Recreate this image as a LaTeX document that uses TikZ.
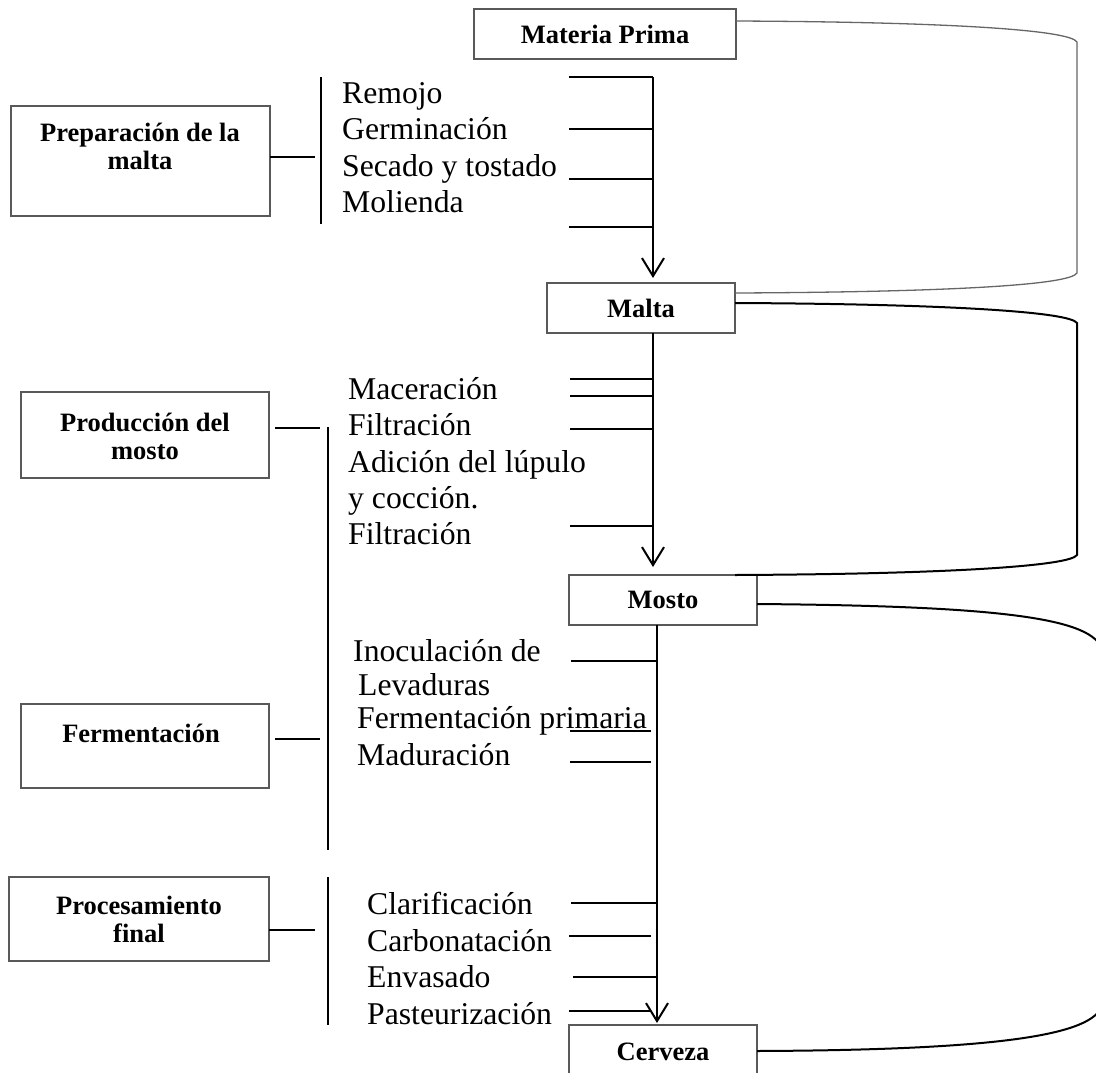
\documentclass[tikz,border=0pt]{standalone}
\usepackage{fontspec}
\setmainfont{Liberation Serif}
\usetikzlibrary{arrows.meta}
\newcommand{\bfboxfont}{\fontsize{26.5}{28}\selectfont\bfseries}
\newcommand{\stepfont}{\fontsize{31.7}{36}\selectfont}
\begin{document}
\begin{tikzpicture}[x=1pt,y=-1pt,
  mainbox/.style={draw=black!65, line width=1.3pt, inner sep=0pt, outer sep=0pt, font=\bfboxfont, align=center},
  sidebox/.style={draw=black!65, line width=1.3pt, inner sep=0pt, outer sep=0pt},
  boxtext/.style={inner sep=0pt, font=\bfboxfont, align=center},
  steptext/.style={anchor=base west, inner sep=0pt, font=\stepfont},
  flow/.style={line width=2pt, -{Straight Barb[length=18pt,width=22pt,line width=2pt]}},
  tickline/.style={line width=2pt},
  barline/.style={line width=2pt},
  loopA/.style={draw=black!60, line width=1.3pt},
  loopB/.style={draw=black, line width=2pt}]
\useasboundingbox (0,0) rectangle (1096,1072);
\clip (0,0) rectangle (1096,1072);

% main boxes
\node[mainbox, minimum width=262pt, minimum height=50pt] (materia) at (605,34) {Materia Prima};
\node[mainbox, minimum width=188pt, minimum height=50pt] (malta) at (641,308) {Malta};
\node[mainbox, minimum width=188pt, minimum height=50pt] (mosto) at (663,600) {Mosto};
\node[sidebox, minimum width=188pt, minimum height=50pt] (cerveza) at (663,1050) {};
\node[boxtext] (cervezat) at (663,1052) {Cerveza};

% left boxes
\node[sidebox, minimum width=259pt, minimum height=110pt] (prep) at (140.5,161) {};
\node[boxtext] (prept) at (140,146) {Preparación de la\\malta};
\node[sidebox, minimum width=248pt, minimum height=86pt] (prod) at (145,435) {};
\node[boxtext] (prodt) at (145,436) {Producción del\\mosto};
\node[sidebox, minimum width=248pt, minimum height=84pt] (ferm) at (145,746) {};
\node[boxtext] (fermt) at (141,733) {Fermentación};
\node[sidebox, minimum width=260pt, minimum height=84pt] (proc) at (139,919) {};
\node[boxtext] (proct) at (139,919) {Procesamiento\\final};

% bars and connectors on the left
\coordinate (b1) at (315,157);
\coordinate (b2) at (320,428);
\coordinate (b3) at (320,739);
\coordinate (b4) at (315,930);
\draw[barline] (prep.east |- b1) -- (b1);
\draw[barline] ([xshift=6pt]prod.east |- b2) -- (b2);
\draw[barline] ([xshift=6pt]ferm.east |- b3) -- (b3);
\draw[barline] (proc.east |- b4) -- (b4);
\draw[barline] (321,77) -- (321,224);
\draw[barline] (328,427) -- (328,850);
\draw[barline] (328,877) -- (328,1025);

% step texts
\node[steptext] (t11) at (342,103) {Remojo};
\node[steptext] (t12) at (342,139.5) {Germinación};
\node[steptext] (t13) at (342,176) {Secado y tostado};
\node[steptext] (t14) at (342,212.5) {Molienda};

\node[steptext] (t21) at (348,399) {Maceración};
\node[steptext] (t22) at (348,435) {Filtración};
\node[steptext] (t23) at (348,472) {Adición del lúpulo};
\node[steptext] (t24) at (348,508) {y cocción.};
\node[steptext] (t25) at (348,544) {Filtración};

\node[steptext] (t31) at (353,661) {Inoculación de};
\node[steptext] (t32) at (358,695) {Levaduras};
\node[steptext] (t33) at (357,728) {Fermentación primaria};
\node[steptext] (t34) at (357,765) {Maduración};

\node[steptext] (t41) at (367,914) {Clarificación};
\node[steptext] (t42) at (367,951) {Carbonatación};
\node[steptext] (t43) at (367,987) {Envasado};
\node[steptext] (t44) at (367,1024) {Pasteurización};

% main flow arrows
\coordinate (a1) at (653,77);
\coordinate (a3) at (657,0);
\draw[flow, shorten >=5pt] (a1) -- (a1 |- malta.north);
\draw[flow, shorten >=8pt] (a1 |- malta.south) -- (a1 |- mosto.north);
\draw[flow, shorten >=2pt] (a3 |- mosto.south) -- (a3 |- cerveza.north);

% ticks
\foreach \y in {77,129,179,227} \draw[tickline] (569,\y) -- (653,\y);
\foreach \y in {379,396,429,526} \draw[tickline] (570,\y) -- (653,\y);
\draw[tickline] (571,661) -- (657,661);
\draw[tickline] (570,731) -- (651,731);
\draw[tickline] (570,762) -- (651,762);
\draw[tickline] (571,903) -- (657,903);
\draw[tickline] (569,936) -- (651,936);
\draw[tickline] (573,977) -- (657,977);
\draw[tickline] (569,1011) -- (650,1011);

% loop brackets on the right
\draw[loopA] ([yshift=-12pt]materia.north east) .. controls (950,22) and (1070,30) .. (1077,42)
  -- (1077,273) .. controls (1070,285) and (950,292) .. ([yshift=-10pt]malta.north east);
\draw[loopB] ([yshift=-20pt]malta.north east) .. controls (950,304) and (1070,312) .. (1077,323)
  -- (1077,555) .. controls (1070,566) and (950,574) .. ([xshift=-22pt]mosto.north east);
\draw[loopB] ([yshift=-29pt]mosto.north east) .. controls (1000,606) and (1094,618) .. (1102,650)
  -- (1102,1005) .. controls (1094,1035) and (1000,1050) .. ([yshift=-26pt]cerveza.north east);
\end{tikzpicture}
\end{document}
